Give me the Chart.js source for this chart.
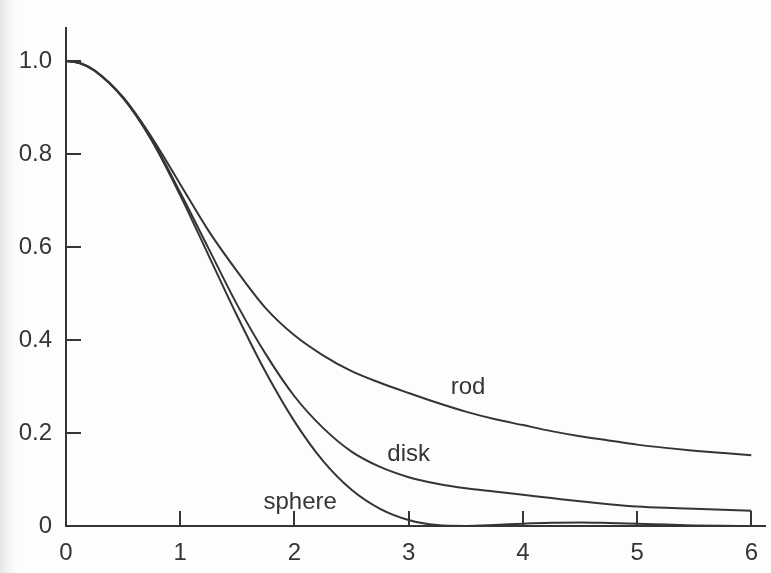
<!DOCTYPE html>
<html>
<head>
<meta charset="utf-8">
<script src="https://cdn.jsdelivr.net/npm/chart.js@4/dist/chart.umd.min.js"></script>
<style>
  html, body { margin: 0; padding: 0; background: #fdfdfd; }
  #wrap { width: 771px; height: 573px; position: relative; }
</style>
</head>
<body>
<div id="wrap"><canvas id="chart" width="771" height="573"></canvas></div>
<script>
// x values (qRg) and the three form-factor curves
const qRg = [0, 0.125, 0.25, 0.5, 0.75, 1, 1.25, 1.5, 1.75, 2, 2.25, 2.5, 2.75, 3,
  3.25, 3.5, 3.75, 4, 4.25, 4.5, 4.75, 5, 5.25, 5.5, 5.75, 6];
const sphere = [1.0, 0.995, 0.979, 0.92, 0.829, 0.711, 0.581, 0.451, 0.33, 0.225, 0.14,
  0.078, 0.037, 0.013, 0.002, 0.0, 0.002, 0.005, 0.007, 0.0075, 0.0065, 0.005,
  0.003, 0.0012, 0.0003, 0.0];
const disk = [1.0, 0.995, 0.979, 0.921, 0.832, 0.717, 0.596, 0.475, 0.369, 0.279, 0.211,
  0.16, 0.127, 0.105, 0.091, 0.081, 0.074, 0.067, 0.06, 0.053, 0.047, 0.042,
  0.039, 0.037, 0.035, 0.033];
const rod = [1.0, 0.995, 0.98, 0.922, 0.836, 0.735, 0.634, 0.547, 0.468, 0.41, 0.367,
  0.333, 0.308, 0.286, 0.265, 0.246, 0.23, 0.217, 0.204, 0.193, 0.184, 0.175,
  0.168, 0.162, 0.157, 0.152];
const seriesNames = ["sphere", "disk", "rod"];
const xTicks = [0, 1, 2, 3, 4, 5, 6];
const yTicks = [0, 0.2, 0.4, 0.6, 0.8, 1.0];

const INK = "#353535";
Chart.defaults.font.family = "'Liberation Sans', Arial, sans-serif";
Chart.defaults.font.size = 24;
Chart.defaults.color = INK;

const toPoints = (ys) => qRg.map((x, i) => ({ x, y: ys[i] }));

// tick marks point into the plot, so draw them by hand from the scales
const innerTicks = {
  id: "innerTicks",
  afterDraw(chart) {
    const { ctx, scales: { x, y } } = chart;
    ctx.save();
    ctx.strokeStyle = INK;
    ctx.lineWidth = 2;
    ctx.beginPath();
    yTicks.filter((v) => v > 0).forEach((v) => {
      const py = Math.round(y.getPixelForValue(v));
      ctx.moveTo(x.left, py);
      ctx.lineTo(x.left + 15, py);
    });
    xTicks.filter((v) => v > 0).forEach((v) => {
      const px = Math.round(x.getPixelForValue(v));
      ctx.moveTo(px, y.bottom);
      ctx.lineTo(px, y.bottom - 15);
    });
    ctx.stroke();
    ctx.restore();
  },
};

// curve names written next to each line
const curveLabels = {
  id: "curveLabels",
  afterDatasetsDraw(chart) {
    const { ctx, scales: { x, y } } = chart;
    const spots = { sphere: [2.05, 0.05], disk: [3.0, 0.153], rod: [3.52, 0.298] };
    ctx.save();
    ctx.fillStyle = INK;
    ctx.font = "24px 'Liberation Sans', Arial, sans-serif";
    ctx.textAlign = "center";
    ctx.textBaseline = "middle";
    seriesNames.forEach((n) => {
      const [vx, vy] = spots[n];
      ctx.fillText(n, x.getPixelForValue(vx), y.getPixelForValue(vy));
    });
    ctx.restore();
  },
};

const paper = {
  id: "paper",
  beforeDraw(chart) {
    const { ctx, width, height } = chart;
    ctx.save();
    ctx.fillStyle = "#fdfdfd";
    ctx.fillRect(0, 0, width, height);
    const g = ctx.createLinearGradient(0, 0, 22, 0);
    g.addColorStop(0, "#e4e4e4");
    g.addColorStop(1, "rgba(253,253,253,0)");
    ctx.fillStyle = g;
    ctx.fillRect(0, 0, 22, height);
    ctx.restore();
  },
};

new Chart(document.getElementById("chart"), {
  type: "line",
  data: {
    datasets: [sphere, disk, rod].map((ys, i) => ({
      label: seriesNames[i],
      data: toPoints(ys),
      borderColor: INK,
      borderWidth: 2,
      pointRadius: 0,
      fill: false,
      cubicInterpolationMode: "monotone",
    })),
  },
  options: {
    responsive: false,
    animation: false,
    layout: { padding: { top: 17, right: 1, left: 0, bottom: 0 } },
    plugins: { legend: { display: false }, tooltip: { enabled: false } },
    scales: {
      x: {
        type: "linear",
        min: 0,
        max: 6.12,
        afterBuildTicks: (s) => { s.ticks = xTicks.map((v) => ({ value: v })); },
        afterFit: (s) => { s.height = 47; },
        grid: { display: false, drawTicks: false },
        border: { display: true, color: INK, width: 2 },
        ticks: { padding: 13, maxRotation: 0, callback: (v) => String(v) },
      },
      y: {
        min: 0,
        max: 1.07,
        afterBuildTicks: (s) => { s.ticks = yTicks.map((v) => ({ value: v })); },
        afterFit: (s) => { s.width = 66; },
        grid: { display: false, drawTicks: false },
        border: { display: true, color: INK, width: 2 },
        ticks: { padding: 14, callback: (v) => (v === 0 ? "0" : v.toFixed(1)) },
      },
    },
  },
  plugins: [paper, innerTicks, curveLabels],
});
</script>
</body>
</html>
